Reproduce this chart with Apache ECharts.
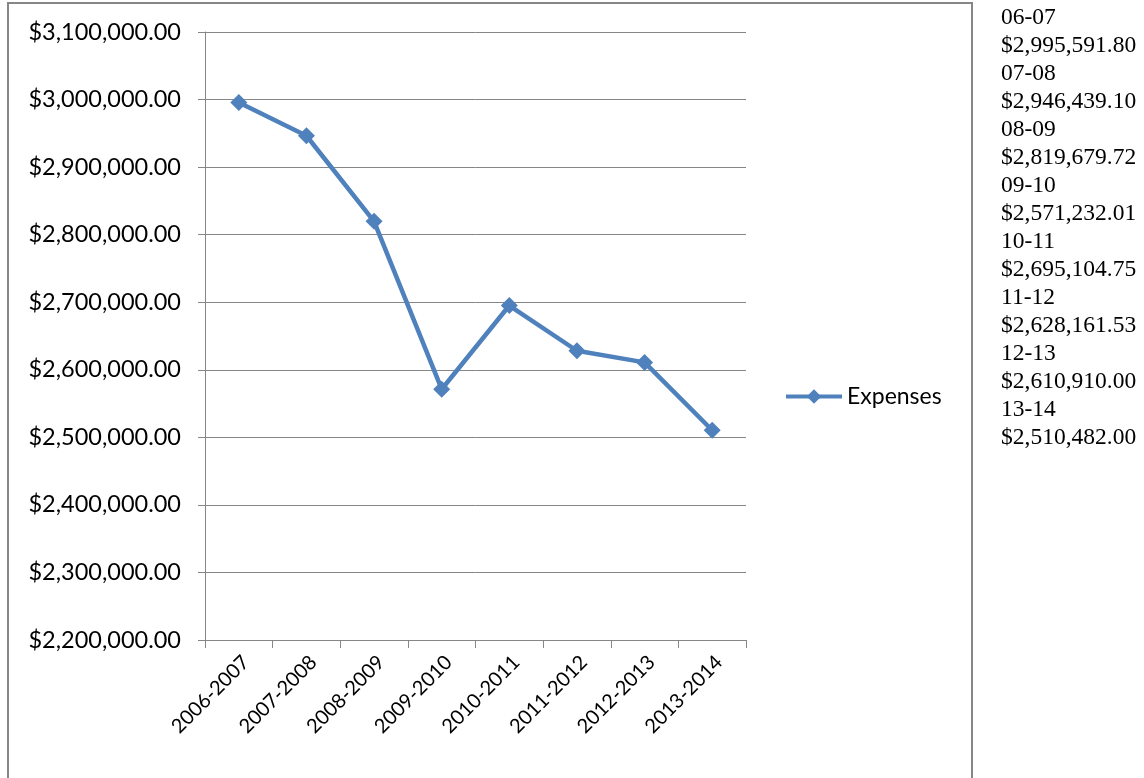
<!DOCTYPE html>
<html><head><meta charset="utf-8">
<script src="https://cdn.jsdelivr.net/npm/echarts@6/dist/echarts.min.js"></script>
<style>html,body{margin:0;padding:0;background:#fff}#c{width:1144px;height:778px}</style>
</head><body><div id="c"></div>
<script>
var categories = ['2006-2007','2007-2008','2008-2009','2009-2010','2010-2011','2011-2012','2012-2013','2013-2014'];
var expenses = [2995591.80, 2946439.10, 2819679.72, 2571232.01, 2695104.75, 2628161.53, 2610910.00, 2510482.00];
var shortLabels = ['06-07','07-08','08-09','09-10','10-11','11-12','12-13','13-14'];
var seriesName = 'Expenses';

function money(v){
  return '$' + Number(v).toLocaleString('en-US',{minimumFractionDigits:2,maximumFractionDigits:2});
}
var sideLines = [];
for (var i=0;i<shortLabels.length;i++){ sideLines.push(shortLabels[i]); sideLines.push(money(expenses[i])); }

var chart = echarts.init(document.getElementById('c'));
var font = 'Lato, "Open Sans", sans-serif';
chart.setOption({
  animation:false,
  backgroundColor:'#fff',
  grid:{left:205,right:398,top:32,bottom:138,containLabel:false},
  legend:{
    left:779, top:380, itemWidth:56, itemHeight:18, itemGap:6,
    textStyle:{fontFamily:font,fontSize:23,color:'#000'},
    lineStyle:{width:4},
    data:[seriesName]
  },
  xAxis:{
    type:'category', data:categories, boundaryGap:true,
    axisLine:{lineStyle:{color:'#868686',width:1}},
    axisTick:{show:true,length:8,inside:false,lineStyle:{color:'#868686'}},
    axisLabel:{rotate:45,margin:12,verticalAlign:'top',fontFamily:font,fontSize:20,color:'#000',interval:0}
  },
  yAxis:{
    type:'value', min:2200000, max:3100000, interval:100000,
    axisLine:{show:true,lineStyle:{color:'#868686',width:1}},
    axisTick:{show:true,length:7,lineStyle:{color:'#868686'}},
    splitLine:{show:true,lineStyle:{color:'#868686',width:1}},
    axisLabel:{margin:24,fontFamily:font,fontSize:23.5,color:'#000',formatter:function(v){return money(v);}}
  },
  series:[{
    name:seriesName, type:'line', data:expenses,
    symbol:'diamond', symbolSize:17,
    lineStyle:{color:'#4F81BD',width:4.5},
    itemStyle:{color:'#4F81BD'}
  }],
  graphic:[
    {type:'rect',shape:{x:8,y:3,width:964,height:800},style:{fill:'none',stroke:'#868686',lineWidth:2},silent:true},
    {type:'text',left:1001,top:4,style:{text:sideLines.join('\n'),font:'23.5px "Liberation Serif", "Times New Roman", serif',lineHeight:28,fill:'#000'}}
  ]
});
</script></body></html>
